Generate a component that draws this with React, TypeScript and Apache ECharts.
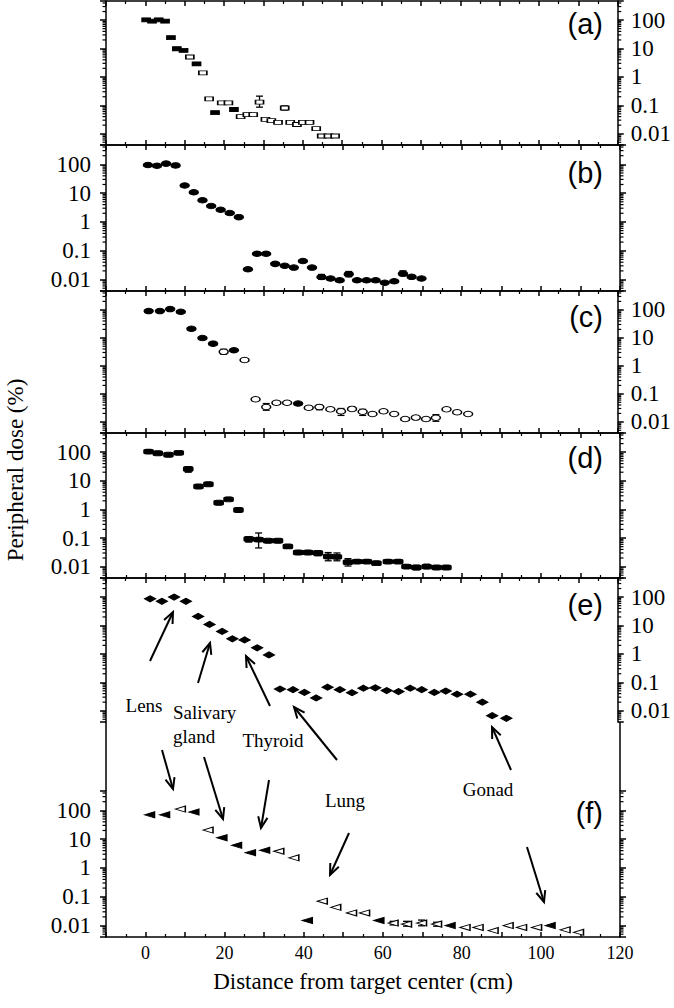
import React, { useEffect, useRef } from 'react';
import * as echarts from 'echarts';

// ---------- data ----------
const X_MIN = -10;
const X_MAX = 120;
const Y_MIN = 0.004;
const Y_MAX = 470;
const X_LABELS = [0, 20, 40, 60, 80, 100, 120];
const Y_LABELS = [0.01, 0.1, 1, 10, 100];
const MINOR_MULT = [2, 3, 4, 5, 6, 7, 8, 9];
const DECADES = [0.001, 0.01, 0.1, 1, 10, 100];

// (a)
const aX = [0.2, 1.7, 3.4, 5.0, 6.5, 8.0, 9.7, 11.3, 13.0, 14.6, 16.2, 17.7, 19.4, 21.1, 22.5, 24.2, 25.9, 27.4, 29.0, 30.5, 32.0, 33.7, 35.4, 36.8, 38.5, 40.0, 41.7, 43.4, 44.8, 46.5, 48.2];
const aY = [102, 92, 102, 92, 24, 9.8, 8.6, 5.0, 2.86, 1.38, 0.169, 0.055, 0.122, 0.122, 0.071, 0.040, 0.047, 0.047, 0.129, 0.032, 0.029, 0.025, 0.080, 0.025, 0.021, 0.025, 0.025, 0.015, 0.0083, 0.0083, 0.0083];
const aFilled = [1, 1, 1, 1, 1, 1, 1, 0, 1, 0, 0, 1, 0, 0, 1, 0, 0, 0, 0, 0, 0, 0, 0, 0, 0, 0, 0, 0, 0, 0, 0];
const aErr = [[29.0, 0.086, 0.21], [35.4, 0.068, 0.095]];

// (b)
const bX = [0.6, 2.9, 5.2, 7.6, 9.9, 12.2, 14.4, 16.6, 19.0, 21.3, 23.6, 25.9, 28.2, 30.5, 32.8, 35.2, 37.5, 39.8, 42.1, 44.5, 46.8, 49.1, 51.4, 53.5, 55.9, 58.2, 60.5, 62.9, 65.1, 67.3, 69.8];
const bY = [95, 90, 106, 92, 18.5, 10.7, 5.7, 3.6, 2.67, 2.04, 1.47, 0.0227, 0.079, 0.079, 0.035, 0.030, 0.026, 0.044, 0.026, 0.0123, 0.0108, 0.0094, 0.0154, 0.0094, 0.0094, 0.0094, 0.0077, 0.0087, 0.016, 0.0124, 0.0108];
const bFilled = bX.map(() => 1);
const bErr = [[44.5, 0.0103, 0.015], [51.4, 0.0125, 0.019], [65.1, 0.0135, 0.02]];

// (c)
const cX = [0.85, 3.7, 6.3, 9.0, 11.7, 14.5, 17.2, 19.9, 22.5, 25.2, 28.0, 30.7, 33.3, 36.0, 38.8, 41.5, 44.2, 47.0, 49.7, 52.5, 55.2, 57.7, 60.5, 63.2, 66.0, 68.7, 71.3, 73.8, 76.5, 79.2, 82.0];
const cY = [90, 90, 106, 85, 21, 9.8, 6.2, 3.2, 3.6, 1.62, 0.064, 0.034, 0.048, 0.048, 0.045, 0.032, 0.034, 0.028, 0.024, 0.029, 0.023, 0.019, 0.024, 0.019, 0.0127, 0.0142, 0.0127, 0.014, 0.028, 0.022, 0.019];
const cFilled = [1, 1, 1, 1, 1, 1, 1, 0, 1, 0, 0, 0, 0, 0, 1, 0, 0, 0, 0, 0, 0, 0, 0, 0, 0, 0, 0, 0, 0, 0, 0];
const cErr = [[19.9, 2.6, 3.9], [30.7, 0.026, 0.045], [44.2, 0.027, 0.04], [49.7, 0.017, 0.03], [55.2, 0.017, 0.028], [73.8, 0.0105, 0.018]];

// (d)
const dX = [0.76, 3.1, 5.8, 8.4, 10.8, 13.4, 15.9, 18.5, 21.0, 23.5, 26.1, 28.6, 31.0, 33.5, 36.0, 38.6, 41.1, 43.6, 46.2, 48.4, 51.2, 53.5, 56.0, 58.4, 61.3, 63.9, 66.0, 68.5, 71.1, 73.6, 76.1];
const dY = [105, 92, 82, 95, 25.8, 6.3, 7.6, 1.72, 2.25, 0.95, 0.092, 0.088, 0.080, 0.080, 0.051, 0.031, 0.031, 0.030, 0.0225, 0.022, 0.0143, 0.015, 0.015, 0.0132, 0.015, 0.015, 0.010, 0.0093, 0.010, 0.0093, 0.0093];
const dFilled = dX.map(() => 1);
const dErr = [[10.8, 20, 31], [26.1, 0.072, 0.11], [28.6, 0.045, 0.15], [43.6, 0.024, 0.036], [46.2, 0.016, 0.031], [48.4, 0.016, 0.03], [51.2, 0.0105, 0.019], [68.5, 0.0078, 0.011], [71.1, 0.0085, 0.012]];

// (e)
const eX = [1.2, 4.2, 7.3, 10.3, 13.4, 16.3, 19.5, 22.1, 25.2, 28.4, 31.4, 34.2, 37.5, 40.4, 43.4, 46.3, 49.4, 52.5, 55.4, 58.4, 61.3, 64.3, 67.3, 70.2, 73.4, 76.3, 79.2, 82.6, 85.6, 88.1, 91.7];
const eY = [87, 71, 100, 71, 20.9, 10.9, 6.2, 3.4, 3.1, 1.63, 0.92, 0.058, 0.055, 0.044, 0.028, 0.067, 0.055, 0.043, 0.062, 0.064, 0.051, 0.047, 0.062, 0.055, 0.044, 0.049, 0.038, 0.038, 0.020, 0.0067, 0.0054];
const eFilled = eX.map(() => 1);
const eErr: number[][] = [];

// (f)
const fX = [1.0, 4.8, 8.8, 12.2, 15.8, 19.3, 23.0, 26.5, 30.1, 33.7, 37.5, 40.9, 44.7, 48.1, 52.1, 55.4, 59.0, 62.6, 66.0, 69.8, 73.6, 77.0, 80.8, 84.1, 87.9, 91.7, 95.1, 98.9, 102.3, 106.1, 109.5];
const fY = [70, 70, 111, 87, 20.7, 11.2, 6.1, 3.4, 4.1, 3.8, 2.25, 0.0151, 0.070, 0.043, 0.0274, 0.0274, 0.015, 0.0122, 0.0112, 0.0122, 0.0112, 0.010, 0.0086, 0.0086, 0.0067, 0.010, 0.0086, 0.0086, 0.010, 0.0071, 0.0058];
const fFilled = [1, 1, 0, 1, 0, 1, 1, 1, 1, 0, 0, 1, 0, 0, 0, 0, 1, 0, 0, 0, 0, 1, 0, 0, 0, 0, 0, 0, 1, 0, 0];
const fErr = [[62.6, 0.0105, 0.014], [66.0, 0.0095, 0.014], [69.8, 0.0098, 0.0155], [73.6, 0.0095, 0.013]];

const PANEL_LABELS = ['(a)', '(b)', '(c)', '(d)', '(e)', '(f)'];
const ORGANS = ['Lens', 'Salivary\ngland', 'Thyroid', 'Lung', 'Gonad'];

// ---------- layout / style ----------
const SERIF = '"Liberation Serif", "Times New Roman", serif';
const SANS = '"Liberation Sans", Arial, sans-serif';
const GRID_LEFT = 106;
const GRID_WIDTH = 514;
const GRID_TOPS = [1, 145, 291, 433, 578, 791];
const GRID_HEIGHTS = [144, 146, 142, 145, 144, 146];
const LABEL_SIDE = ['right', 'left', 'right', 'left', 'right', 'left'];
const PANEL_LABEL_Y = [24, 173, 317, 458, 605, 813];

const PANELS = [
  { x: aX, y: aY, filled: aFilled, err: aErr, symbol: 'rect', size: [8, 4], rotate: 0 },
  { x: bX, y: bY, filled: bFilled, err: bErr, symbol: 'circle', size: [9, 5.5], rotate: 0 },
  { x: cX, y: cY, filled: cFilled, err: cErr, symbol: 'circle', size: [9, 5.5], rotate: 0 },
  { x: dX, y: dY, filled: dFilled, err: dErr, symbol: 'roundRect', size: [9, 5], rotate: 0 },
  { x: eX, y: eY, filled: eFilled, err: eErr, symbol: 'diamond', size: [11, 6], rotate: 0 },
  { x: fX, y: fY, filled: fFilled, err: fErr, symbol: 'triangle', size: [6, 10], rotate: 90 },
];

const ARROWS = [
  [150, 661, 173, 612],
  [198, 683, 210, 643],
  [270, 706, 246, 656],
  [337, 760, 294, 707],
  [511, 770, 492, 727],
  [162, 750, 173, 789],
  [204, 757, 223, 819],
  [269, 780, 261, 828],
  [349, 833, 330, 875],
  [527, 847, 544, 902],
];
const ORGAN_POS = [
  { x: 144, y: 705, align: 'center' },
  { x: 173, y: 724, align: 'left' },
  { x: 273, y: 740, align: 'center' },
  { x: 345, y: 800, align: 'center' },
  { x: 488, y: 789, align: 'center' },
];

const AX_LINE = { color: '#000', width: 1.5 };

function isDecade(v: number) {
  const l = Math.log10(v);
  return Math.abs(l - Math.round(l)) < 1e-6;
}

function arrow(x1: number, y1: number, x2: number, y2: number) {
  const ang = Math.atan2(y2 - y1, x2 - x1);
  const L = 12;
  const a = 0.4;
  const p1 = [x2 - L * Math.cos(ang - a), y2 - L * Math.sin(ang - a)];
  const p2 = [x2 - L * Math.cos(ang + a), y2 - L * Math.sin(ang + a)];
  return [
    { type: 'line', shape: { x1, y1, x2, y2 }, style: { stroke: '#000', lineWidth: 2 } },
    { type: 'polyline', shape: { points: [p1, [x2, y2], p2] }, style: { stroke: '#000', lineWidth: 2, fill: 'none' } },
  ];
}

function buildOption() {
  const grid: any[] = [];
  const xAxis: any[] = [];
  const yAxis: any[] = [];
  const series: any[] = [];
  const minorVals: number[] = [];
  DECADES.forEach((d) => MINOR_MULT.forEach((m) => {
    const v = m * d;
    if (v > Y_MIN && v < Y_MAX) minorVals.push(v);
  }));

  PANELS.forEach((p, i) => {
    const isE = i === 4;
    const isF = i === 5;
    grid.push({ left: GRID_LEFT, width: GRID_WIDTH, top: GRID_TOPS[i], height: GRID_HEIGHTS[i] });
    const xCommon = {
      gridIndex: i, type: 'value', min: X_MIN, max: X_MAX, interval: 10,
      splitLine: { show: false },
    };
    xAxis.push({
      ...xCommon, position: 'bottom',
      axisLine: { show: !isE, onZero: false, lineStyle: AX_LINE },
      axisTick: { show: !isE, inside: true, length: 5, lineStyle: AX_LINE },
      minorTick: { show: !isE, splitNumber: 2, length: 3, lineStyle: { color: '#000', width: 1.2 } },
      axisLabel: {
        show: isF, margin: 7, color: '#000', fontFamily: SERIF, fontSize: 18,
        formatter: (v: number) => (X_LABELS.indexOf(v) >= 0 ? String(v) : ''),
      },
      name: isF ? 'Distance from target center (cm)' : '',
      nameLocation: 'middle', nameGap: 33,
      nameTextStyle: { color: '#000', fontFamily: SERIF, fontSize: 23 },
    });
    xAxis.push({
      ...xCommon, position: 'top',
      axisLine: { show: !isF, onZero: false, lineStyle: AX_LINE },
      axisTick: { show: !isF, inside: true, length: 5, lineStyle: AX_LINE },
      minorTick: { show: !isF, splitNumber: 2, length: 3, lineStyle: { color: '#000', width: 1.2 } },
      axisLabel: { show: false },
    });
    const side = LABEL_SIDE[i];
    const other = side === 'left' ? 'right' : 'left';
    const yCommon = {
      gridIndex: i, type: 'log', logBase: 10, min: Y_MIN, max: Y_MAX,
      splitLine: { show: false },
      axisLine: { show: true, onZero: false, lineStyle: AX_LINE },
      axisTick: { show: true, inside: false, length: 6, lineStyle: AX_LINE },
    };
    yAxis.push({
      ...yCommon, position: side,
      axisLabel: {
        show: true, margin: side === 'left' ? 15 : 13, color: '#000', fontFamily: SERIF, fontSize: 23,
        formatter: (v: number) => {
          if (!isDecade(v)) return '';
          const r = Number(v.toPrecision(6));
          return Y_LABELS.indexOf(r) >= 0 ? String(r) : '';
        },
      },
    });
    yAxis.push({ ...yCommon, position: other, axisLabel: { show: false } });

    // error bars
    series.push({
      type: 'custom', xAxisIndex: 2 * i, yAxisIndex: 2 * i, z: 1, silent: true,
      data: p.err,
      encode: { x: 0, y: [1, 2] },
      renderItem: (params: any, api: any) => {
        const x = api.value(0);
        const a = api.coord([x, api.value(1)]);
        const b = api.coord([x, api.value(2)]);
        const st = { stroke: '#000', lineWidth: 1.3 };
        return {
          type: 'group', children: [
            { type: 'line', shape: { x1: a[0], y1: a[1], x2: b[0], y2: b[1] }, style: st },
            { type: 'line', shape: { x1: a[0] - 3.5, y1: a[1], x2: a[0] + 3.5, y2: a[1] }, style: st },
            { type: 'line', shape: { x1: b[0] - 3.5, y1: b[1], x2: b[0] + 3.5, y2: b[1] }, style: st },
          ],
        };
      },
    });
    // points
    series.push({
      type: 'scatter', xAxisIndex: 2 * i, yAxisIndex: 2 * i, z: 3,
      symbol: p.symbol, symbolSize: p.size, symbolRotate: p.rotate,
      itemStyle: { borderColor: '#000', borderWidth: 1.2, opacity: 1 },
      data: p.x.map((xv, j) => ({
        value: [xv, p.y[j]],
        itemStyle: { color: p.filled[j] ? '#000' : '#fff' },
      })),
    });
    // log minor ticks on both sides
    series.push({
      type: 'custom', xAxisIndex: 2 * i, yAxisIndex: 2 * i, z: 2, silent: true,
      data: minorVals.map((v) => [X_MIN, v]),
      renderItem: (params: any, api: any) => {
        const v = api.value(1);
        const l = api.coord([X_MIN, v]);
        const r = api.coord([X_MAX, v]);
        const st = { stroke: '#000', lineWidth: 1.2 };
        return {
          type: 'group', children: [
            { type: 'line', shape: { x1: l[0] - 3.5, y1: l[1], x2: l[0], y2: l[1] }, style: st },
            { type: 'line', shape: { x1: r[0], y1: r[1], x2: r[0] + 3.5, y2: r[1] }, style: st },
          ],
        };
      },
    });
  });

  const graphic: any[] = [];
  // connecting box borders between (e) and (f)
  const eBottom = GRID_TOPS[4] + GRID_HEIGHTS[4];
  const fTop = GRID_TOPS[5];
  [GRID_LEFT, GRID_LEFT + GRID_WIDTH].forEach((x) => {
    graphic.push({ type: 'line', shape: { x1: x, y1: eBottom, x2: x, y2: fTop }, style: { stroke: '#000', lineWidth: 1.5 } });
  });
  PANEL_LABELS.forEach((t, i) => {
    graphic.push({
      type: 'text', x: 603, y: PANEL_LABEL_Y[i],
      style: { text: t, fill: '#000', fontFamily: SANS, fontSize: 29, align: 'right', verticalAlign: 'middle', textAlign: 'right', textVerticalAlign: 'middle' },
    });
  });
  ARROWS.forEach((a) => graphic.push(...arrow(a[0], a[1], a[2], a[3])));
  ORGANS.forEach((t, i) => {
    const pos = ORGAN_POS[i];
    graphic.push({
      type: 'text', x: pos.x, y: pos.y,
      style: { text: t, fill: '#000', fontFamily: SERIF, fontSize: 19, lineHeight: 24, align: pos.align, verticalAlign: 'middle', textAlign: pos.align, textVerticalAlign: 'middle' },
    });
  });
  graphic.push({
    type: 'text', x: 15, y: 470, rotation: Math.PI / 2,
    style: { text: 'Peripheral dose (%)', fill: '#000', fontFamily: SERIF, fontSize: 23, align: 'center', verticalAlign: 'middle', textAlign: 'center', textVerticalAlign: 'middle' },
  });

  return {
    animation: false,
    backgroundColor: '#fff',
    grid, xAxis, yAxis, series, graphic,
  };
}

export default function App() {
  const ref = useRef<HTMLDivElement>(null);
  useEffect(() => {
    if (!ref.current) return;
    const chart = echarts.init(ref.current, undefined, { renderer: 'svg' });
    chart.setOption(buildOption() as any);
    return () => chart.dispose();
  }, []);
  return <div ref={ref} style={{ position: 'absolute', left: 0, top: 0, width: 674, height: 1008 }} />;
}
